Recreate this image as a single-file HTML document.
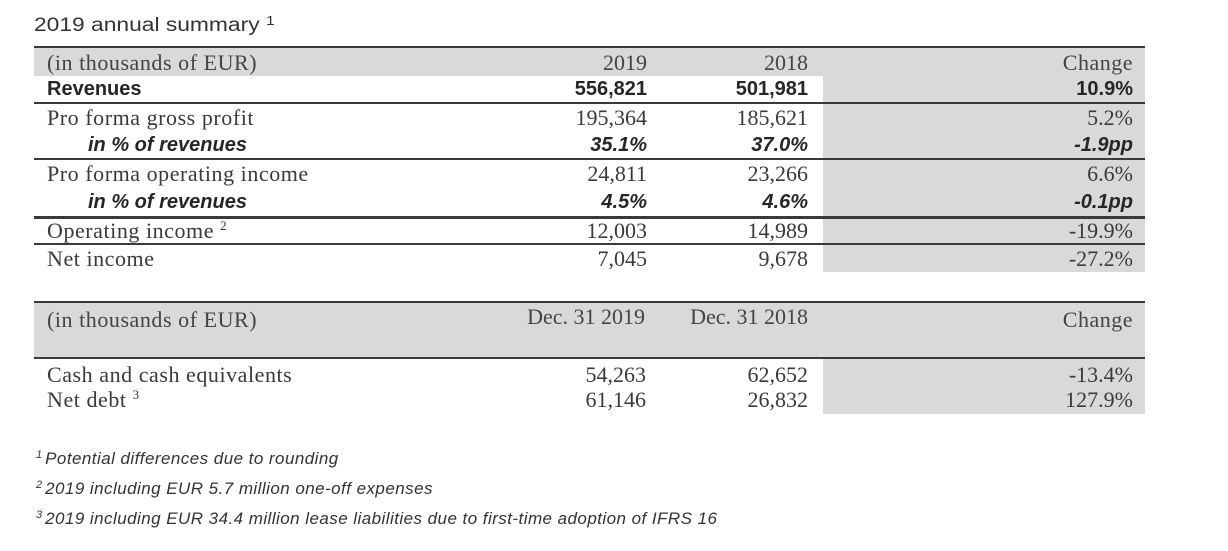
<!DOCTYPE html>
<html><head><meta charset="utf-8">
<style>
html,body{margin:0;padding:0;background:#fff;}
body{width:1228px;height:551px;position:relative;overflow:hidden;}
.a{position:absolute;white-space:nowrap;}
.s{font-family:"Liberation Serif",serif;font-size:22px;line-height:28px;color:#3a3a3a;}
.lbl{letter-spacing:0.55px;}
.b{font-family:"Liberation Sans",sans-serif;font-size:20px;line-height:28px;font-weight:bold;color:#262626;}
.bi{font-style:italic;}
.r{text-align:right;width:300px;}
.c1{left:347px;}
.c2{left:508px;}
.c3{left:833px;}
.g{position:absolute;background:#d9d9d9;}
.ln{position:absolute;background:#3a3a3a;height:2px;left:34px;width:1111px;}
.sp{font-size:13px;position:relative;top:-8px;line-height:0;letter-spacing:0;}
.fn{position:absolute;left:36px;font-family:"Liberation Sans",sans-serif;font-style:italic;font-size:17px;line-height:20px;color:#333;letter-spacing:0.45px;white-space:nowrap;}
.fs{font-size:11px;position:relative;top:-6px;line-height:0;margin-right:3px;letter-spacing:0;}
</style></head><body>

<!-- title -->
<div class="a" style="left:34px;top:16px;font-family:'Liberation Sans',sans-serif;font-size:19px;line-height:19px;color:#333;transform:scaleX(1.2);transform-origin:0 0;">2019 annual summary <span style="font-size:13px;position:relative;top:-6px;">1</span></div>

<!-- table 1 backgrounds -->
<div class="g" style="left:34px;top:48px;width:1111px;height:28px;"></div>
<div class="g" style="left:823px;top:76px;width:322px;height:196px;"></div>

<!-- table 1 lines -->
<div class="ln" style="top:46px;"></div>
<div class="ln" style="top:102px;"></div>
<div class="ln" style="top:158px;"></div>
<div class="ln" style="top:216px;height:3px;"></div>
<div class="ln" style="top:243px;"></div>

<!-- header row -->
<div class="a s lbl" style="left:47px;top:49px;color:#444;">(in thousands of EUR)</div>
<div class="a s r c1" style="top:49px;color:#444;">2019</div>
<div class="a s r c2" style="top:49px;color:#444;">2018</div>
<div class="a s r c3" style="top:49px;color:#444;letter-spacing:0.5px;">Change</div>

<!-- Revenues -->
<div class="a b" style="left:47px;top:75px;">Revenues</div>
<div class="a b r c1" style="top:75px;">556,821</div>
<div class="a b r c2" style="top:75px;">501,981</div>
<div class="a b r c3" style="top:75px;">10.9%</div>

<!-- Pro forma gross profit -->
<div class="a s lbl" style="left:47px;top:104px;">Pro forma gross profit</div>
<div class="a s r c1" style="top:104px;">195,364</div>
<div class="a s r c2" style="top:104px;">185,621</div>
<div class="a s r c3" style="top:104px;">5.2%</div>

<!-- in % -->
<div class="a b bi" style="left:88px;top:131px;">in % of revenues</div>
<div class="a b bi r c1" style="top:131px;">35.1%</div>
<div class="a b bi r c2" style="top:131px;">37.0%</div>
<div class="a b bi r c3" style="top:131px;">-1.9pp</div>

<!-- Pro forma operating income -->
<div class="a s lbl" style="left:47px;top:160px;">Pro forma operating income</div>
<div class="a s r c1" style="top:160px;">24,811</div>
<div class="a s r c2" style="top:160px;">23,266</div>
<div class="a s r c3" style="top:160px;">6.6%</div>

<!-- in % -->
<div class="a b bi" style="left:88px;top:188px;">in % of revenues</div>
<div class="a b bi r c1" style="top:188px;">4.5%</div>
<div class="a b bi r c2" style="top:188px;">4.6%</div>
<div class="a b bi r c3" style="top:188px;">-0.1pp</div>

<!-- Operating income -->
<div class="a s lbl" style="left:47px;top:217px;">Operating income <span class="sp">2</span></div>
<div class="a s r c1" style="top:217px;">12,003</div>
<div class="a s r c2" style="top:217px;">14,989</div>
<div class="a s r c3" style="top:217px;">-19.9%</div>

<!-- Net income -->
<div class="a s lbl" style="left:47px;top:245px;">Net income</div>
<div class="a s r c1" style="top:245px;">7,045</div>
<div class="a s r c2" style="top:245px;">9,678</div>
<div class="a s r c3" style="top:245px;">-27.2%</div>

<!-- table 2 backgrounds -->
<div class="g" style="left:34px;top:303px;width:1111px;height:55px;"></div>
<div class="g" style="left:823px;top:359px;width:322px;height:55px;"></div>
<div class="ln" style="top:301px;"></div>
<div class="ln" style="top:357px;"></div>

<div class="a s lbl" style="left:47px;top:306px;color:#444;">(in thousands of EUR)</div>
<div class="a s r c1" style="top:303px;color:#444;left:345px;">Dec. 31 2019</div>
<div class="a s r c2" style="top:303px;color:#444;">Dec. 31 2018</div>
<div class="a s r c3" style="top:306px;color:#444;letter-spacing:0.5px;">Change</div>

<div class="a s lbl" style="left:47px;top:361px;">Cash and cash equivalents</div>
<div class="a s r c1" style="top:361px;left:346px;">54,263</div>
<div class="a s r c2" style="top:361px;">62,652</div>
<div class="a s r c3" style="top:361px;">-13.4%</div>

<div class="a s lbl" style="left:47px;top:386px;">Net debt <span class="sp">3</span></div>
<div class="a s r c1" style="top:386px;left:346px;">61,146</div>
<div class="a s r c2" style="top:386px;">26,832</div>
<div class="a s r c3" style="top:386px;">127.9%</div>

<!-- footnotes -->
<div class="fn" style="top:449px;"><span class="fs">1</span>Potential differences due to rounding</div>
<div class="fn" style="top:479px;"><span class="fs">2</span>2019 including EUR 5.7 million one-off expenses</div>
<div class="fn" style="top:509px;"><span class="fs">3</span>2019 including EUR 34.4 million lease liabilities due to first-time adoption of IFRS 16</div>

</body></html>
